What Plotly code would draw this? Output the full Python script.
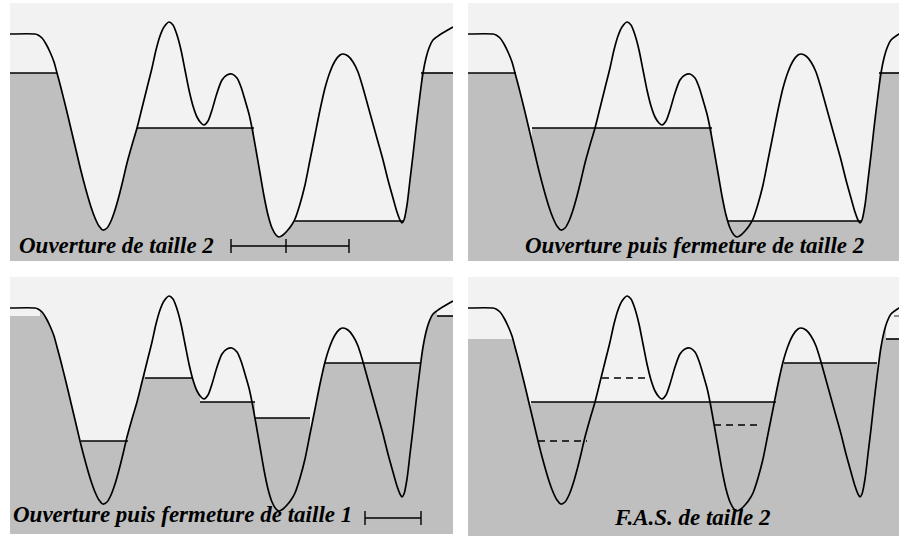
import plotly.graph_objects as go

LIGHT = "#f2f2f2"
GRAY = "#bfbfbf"
FONT = "Liberation Serif"

# ---- signal (x = px from panel left, depth = px below panel top) ----
signal_x = [0, 25, 28, 32, 36, 40, 44, 47, 51, 56,
            61, 66, 71, 76, 81, 85, 89, 93, 97, 101,
            105, 109, 113, 117, 122, 127, 132, 137, 142, 146,
            150, 154, 159, 163, 167, 171, 175, 179, 183, 187,
            191, 194, 198, 202, 207, 212, 217, 222, 227, 231,
            235, 239, 242, 246, 250, 254, 258, 262, 266, 269,
            273, 277, 281, 285, 290, 295, 300, 305, 310, 315,
            320, 325, 330, 333, 338, 343, 348, 353, 358, 363,
            368, 373, 378, 383, 387, 390, 392, 394, 397, 400,
            403, 406, 409, 411, 413, 416, 419, 423, 443]
signal_depth = [31, 31, 32, 35, 41, 49, 59, 70, 85, 105,
                126, 147, 168, 187, 204, 215, 223, 227, 225, 218,
                207, 193, 177, 160, 142, 125, 105, 85, 65, 47,
                33, 24, 19, 22, 32, 47, 67, 87, 103, 114,
                120, 122, 118, 107, 90, 77, 72, 71, 75, 84,
                97, 111, 125, 147, 170, 193, 212, 225, 232, 234,
                232, 228, 223, 216, 201, 182, 157, 132, 107, 85,
                69, 58, 52, 51, 53, 59, 69, 85, 103, 121,
                139, 157, 177, 195, 209, 217, 220, 217, 202, 177,
                152, 125, 100, 84, 70, 55, 45, 37, 24]

# ---- flat parts of each filtered result ----
ouv2_start = [-5, 127, 284, 411]
ouv2_end = [47, 244, 393, 450]
ouv2_level = [70, 125, 218, 70]

of2_start = [-5, 64, 260, 411]
of2_end = [48, 244, 394, 450]
of2_level = [70, 125, 218, 70]

of1_start = [-5, 71, 135, 190, 245, 315, 427]
of1_end = [30, 118, 182, 245, 300, 410, 450]
of1_level = [39, 164, 101, 125, 141, 86, 39]
of1_drawn = [False, True, True, True, True, True, True]

fas_start = [-5, 63, 316, 418]
fas_end = [46, 308, 409, 450]
fas_level = [62, 125, 86, 62]
fas_drawn = [False, True, True, True]

fas_dash_start = [70, 134, 246]
fas_dash_end = [119, 181, 294]
fas_dash_level = [164, 101, 148]

# structuring elements
elem2_ticks = [221, 276, 339]
elem2_depth = 243
elem1_ticks = [355, 411]
elem1_depth = 241

titles = ["Ouverture de taille 2", "Ouverture puis fermeture de taille 2",
          "Ouverture puis fermeture de taille 1", "F.A.S. de taille 2"]

FW, FH = 899, 536
# panel geometry in pixels: left, top, width, height
panels = [
    dict(left=10, top=3, w=443, h=258, st=ouv2_start, en=ouv2_end, lv=ouv2_level, dr=[True] * 4),
    dict(left=468, top=3, w=431, h=258, st=of2_start, en=of2_end, lv=of2_level, dr=[True] * 4),
    dict(left=10, top=277, w=443, h=257, st=of1_start, en=of1_end, lv=of1_level, dr=of1_drawn),
    dict(left=468, top=277, w=431, h=259, st=fas_start, en=fas_end, lv=fas_level, dr=fas_drawn),
]

fig = go.Figure()
layout = {}
for i, p in enumerate(panels):
    n = "" if i == 0 else str(i + 1)
    xa, ya = "x" + n, "y" + n
    H = p["h"]
    # light area above the signal
    fig.add_trace(go.Scatter(x=signal_x, y=signal_depth, mode="lines", fill="tozeroy",
                             fillcolor=LIGHT, line=dict(width=0, shape="spline", smoothing=0.8),
                             xaxis=xa, yaxis=ya, hoverinfo="skip", showlegend=False))
    lx, ly, gx, gy = [], [], [], []
    for a, b, l in zip(p["st"], p["en"], p["lv"]):
        lx += [a, b, b, a, a, None]
        ly += [-5, -5, l, l, -5, None]
        gx += [a, b, b, a, a, None]
        gy += [l, l, H + 5, H + 5, l, None]
    fig.add_trace(go.Scatter(x=lx, y=ly, mode="lines", fill="toself", fillcolor=LIGHT,
                             line=dict(width=0), xaxis=xa, yaxis=ya, hoverinfo="skip", showlegend=False))
    fig.add_trace(go.Scatter(x=gx, y=gy, mode="lines", fill="toself", fillcolor=GRAY,
                             line=dict(width=0), xaxis=xa, yaxis=ya, hoverinfo="skip", showlegend=False))
    # signal curve
    fig.add_trace(go.Scatter(x=signal_x, y=signal_depth, mode="lines",
                             line=dict(color="black", width=1.7, shape="spline", smoothing=0.8),
                             xaxis=xa, yaxis=ya, hoverinfo="skip", showlegend=False))
    # level lines
    sx, sy = [], []
    for a, b, l, d in zip(p["st"], p["en"], p["lv"], p["dr"]):
        if d:
            sx += [max(a, 0), min(b, p["w"]), None]
            sy += [l, l, None]
    fig.add_trace(go.Scatter(x=sx, y=sy, mode="lines", line=dict(color="black", width=1.6),
                             xaxis=xa, yaxis=ya, hoverinfo="skip", showlegend=False))
    layout["xaxis" + n] = dict(domain=[p["left"] / FW, (p["left"] + p["w"]) / FW],
                               range=[0, p["w"]], visible=False, fixedrange=True)
    layout["yaxis" + n] = dict(domain=[1 - (p["top"] + H) / FH, 1 - p["top"] / FH],
                               range=[H, 0], visible=False, fixedrange=True)

# dashed levels of the F.A.S. panel
dx, dy = [], []
for a, b, l in zip(fas_dash_start, fas_dash_end, fas_dash_level):
    dx += [a, b, None]
    dy += [l, l, None]
fig.add_trace(go.Scatter(x=dx, y=dy, mode="lines", line=dict(color="black", width=1.3, dash="7px,5px"),
                         xaxis="x4", yaxis="y4", hoverinfo="skip", showlegend=False))
fig.add_trace(go.Scatter(x=[426, 431], y=[39, 39], mode="lines", line=dict(color="#555555", width=1.3),
                         xaxis="x4", yaxis="y4", hoverinfo="skip", showlegend=False))

# structuring elements
def element(ticks, depth, xa, ya):
    ex, ey = [ticks[0], ticks[-1], None], [depth, depth, None]
    for t in ticks:
        ex += [t, t, None]
        ey += [depth - 7, depth + 7, None]
    fig.add_trace(go.Scatter(x=ex, y=ey, mode="lines", line=dict(color="black", width=1.4),
                             xaxis=xa, yaxis=ya, hoverinfo="skip", showlegend=False))

element(elem2_ticks, elem2_depth, "x", "y")
element(elem1_ticks, elem1_depth, "x3", "y3")

ann_pos = [("x", "y", 7, 242, "left"), ("x2", "y2", 226, 242, "center"),
           ("x3", "y3", 1, 237, "left"), ("x4", "y4", 224, 240, "center")]
annotations = []
for t, (xa, ya, xx, yy, anc) in zip(titles, ann_pos):
    annotations.append(dict(text="<b><i>" + t + "</i></b>", x=xx, y=yy, xref=xa, yref=ya,
                            xanchor=anc, yanchor="middle", showarrow=False,
                            font=dict(family=FONT, size=23, color="black")))

fig.update_layout(width=FW, height=FH, margin=dict(l=0, r=0, t=0, b=0),
                  paper_bgcolor="white", plot_bgcolor=GRAY, showlegend=False,
                  annotations=annotations, **layout)
fig.write_html("out.html", config={"displayModeBar": False, "staticPlot": True},
               post_script="document.body.style.margin='0';document.body.style.overflow='hidden';")
